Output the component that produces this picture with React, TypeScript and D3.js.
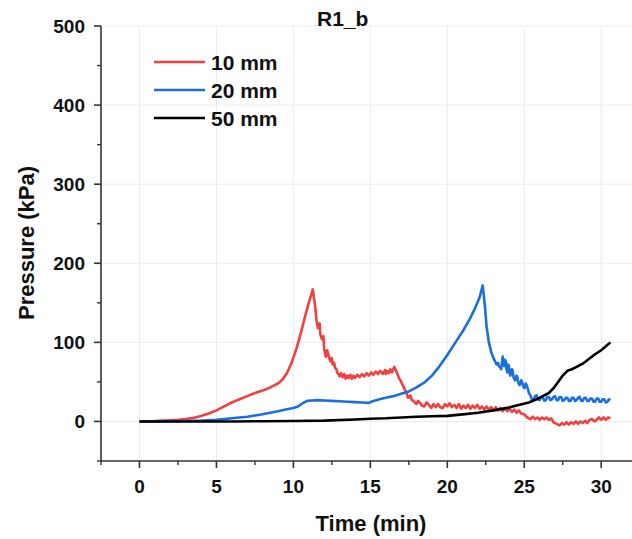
import React from "react";
import * as d3 from "d3";

const title = "R1_b";
const xLabel = "Time (min)";
const yLabel = "Pressure (kPa)";
const xTicks = [0, 5, 10, 15, 20, 25, 30];
const yTicks = [0, 100, 200, 300, 400, 500];
const seriesNames = ["10 mm", "20 mm", "50 mm"];
const seriesColors = ["#F14040", "#1A6FDF", "#000000"];

const red10: [number, number][] = [
  [0, 0], [0.5, 0], [1, 0.5], [1.5, 1], [2, 1.5], [2.5, 2], [3, 3], [3.5, 4.5], [4, 7], [4.5, 10],
  [5, 14], [5.5, 19], [6, 24], [6.5, 28], [7, 32], [7.5, 36], [8, 39], [8.5, 43], [9, 48], [9.3, 53],
  [9.6, 62], [9.9, 75], [10.2, 92], [10.5, 113], [10.8, 136], [11.0, 150], [11.26, 167], [11.4, 148],
  [11.5, 128], [11.6, 118], [11.7, 124], [11.75, 110], [11.85, 104], [11.95, 108], [12.0, 92],
  [12.1, 82], [12.2, 90], [12.25, 86], [12.35, 79], [12.4, 76], [12.5, 80], [12.55, 72], [12.65, 74],
  [12.7, 68], [12.8, 66], [12.85, 62], [12.95, 59], [13.0, 57], [13.1, 61], [13.2, 56], [13.3, 60],
  [13.4, 54], [13.5, 58], [13.6, 55], [13.7, 59], [13.8, 54], [13.9, 58], [14.0, 55], [14.15, 59],
  [14.3, 56], [14.45, 60], [14.6, 57], [14.75, 61], [14.9, 58], [15.05, 62], [15.2, 59], [15.35, 63],
  [15.5, 60], [15.65, 64], [15.8, 60], [15.95, 65], [16.0, 60], [16.1, 64], [16.2, 61], [16.3, 66],
  [16.4, 62], [16.55, 69], [16.7, 63], [16.8, 58], [16.85, 55], [16.95, 52], [17.0, 50], [17.1, 46],
  [17.15, 44], [17.25, 40], [17.3, 38], [17.4, 33], [17.45, 30], [17.6, 33], [17.7, 27], [17.8, 26],
  [17.9, 24], [18.0, 22], [18.1, 26], [18.2, 24], [18.35, 20], [18.5, 19], [18.65, 24], [18.8, 21],
  [18.95, 17], [19.1, 22], [19.25, 18], [19.4, 22], [19.55, 18], [19.7, 17], [19.85, 22], [20.0, 19],
  [20.15, 23], [20.3, 18], [20.45, 21], [20.6, 17], [20.75, 22], [20.9, 16], [21.05, 20], [21.2, 17],
  [21.35, 21], [21.5, 16], [21.65, 20], [21.8, 17], [21.95, 21], [22.1, 16], [22.25, 19], [22.4, 15],
  [22.55, 19], [22.7, 15], [22.85, 18], [23.0, 14], [23.15, 18], [23.3, 14], [23.45, 17], [23.6, 13],
  [23.75, 17], [23.9, 13], [24.05, 16], [24.2, 12], [24.35, 15], [24.5, 11], [24.65, 14], [24.8, 10],
  [25.0, 9], [25.2, 5], [25.4, 3], [25.55, 6], [25.7, 3], [25.85, 5], [26.0, 2], [26.15, 5],
  [26.3, 3], [26.45, 5], [26.6, 2], [26.75, 4], [26.9, -1], [27.1, -3], [27.3, -5], [27.45, -2],
  [27.6, -4], [27.75, -1], [27.9, -4], [28.05, -1], [28.2, -3], [28.35, 0], [28.5, -3], [28.65, 0],
  [28.8, -2], [28.95, 1], [29.1, -2], [29.25, 2], [29.4, 3], [29.55, 0], [29.7, 2], [29.85, 5],
  [30.0, 2], [30.15, 5], [30.3, 2], [30.45, 5], [30.6, 4],
];

const blue20: [number, number][] = [
  [0, 0], [1, 0], [2, 0.3], [3, 0.5], [4, 1], [5, 2], [5.5, 3], [6, 4], [6.5, 5], [7, 6], [7.5, 7.5],
  [8, 9], [8.5, 11], [9, 13], [9.5, 15], [10, 17], [10.3, 19], [10.6, 23], [10.9, 26], [11.2, 26.5],
  [11.6, 27], [12, 26.5], [12.5, 26], [13, 25.5], [13.5, 25], [14, 24.5], [14.5, 24], [14.9, 23.5],
  [15.2, 26], [15.6, 28], [16, 30], [16.5, 32], [17, 35], [17.5, 38], [18, 43], [18.5, 49], [19, 58],
  [19.5, 70], [20, 84], [20.5, 99], [21, 114], [21.5, 131], [21.8, 143], [22.1, 157], [22.3, 172],
  [22.45, 145], [22.55, 120], [22.7, 100], [22.85, 88], [23.0, 80], [23.1, 76], [23.2, 72],
  [23.3, 74], [23.35, 70], [23.45, 68], [23.5, 66], [23.6, 82], [23.65, 72], [23.7, 70], [23.75, 78],
  [23.8, 76], [23.85, 66], [23.9, 62], [23.95, 72], [24.0, 70], [24.05, 62], [24.1, 58], [24.2, 66],
  [24.25, 64], [24.3, 56], [24.4, 52], [24.5, 58], [24.55, 56], [24.6, 50], [24.7, 46], [24.8, 52],
  [24.85, 50], [24.95, 44], [25.0, 42], [25.1, 48], [25.15, 46], [25.25, 40], [25.3, 36],
  [25.4, 33], [25.45, 30], [25.55, 26], [25.6, 28], [25.7, 32], [25.8, 33], [25.9, 28], [26.0, 27],
  [26.1, 31], [26.2, 31], [26.3, 26], [26.4, 27], [26.5, 31], [26.6, 31], [26.7, 27], [26.8, 28],
  [26.9, 31], [27.0, 32], [27.1, 27], [27.2, 27], [27.3, 31], [27.4, 31], [27.5, 26], [27.6, 27],
  [27.7, 30], [27.8, 30], [27.9, 26], [28.0, 26], [28.1, 30], [28.2, 30], [28.3, 26], [28.4, 27],
  [28.5, 30], [28.6, 31], [28.7, 26], [28.8, 26], [28.9, 30], [29.0, 30], [29.1, 26], [29.2, 26],
  [29.3, 29], [29.4, 29], [29.5, 25], [29.6, 25], [29.7, 29], [29.8, 29], [29.9, 25], [30.0, 25],
  [30.1, 28], [30.2, 28], [30.3, 24], [30.4, 25], [30.5, 28], [30.6, 27],
];

const black50: [number, number][] = [
  [0, 0], [2, 0], [4, 0], [6, 0], [8, 0.3], [10, 0.5], [12, 1], [14, 2.5], [15, 3.5], [16, 4],
  [17, 5], [18, 6], [19, 6.5], [20, 7], [21, 9], [22, 11], [23, 14], [24, 17.5], [24.7, 21],
  [25.3, 24], [25.8, 28], [26.2, 32], [26.6, 36], [26.9, 42], [27.2, 50], [27.5, 58], [27.8, 64],
  [28.1, 66], [28.4, 69], [28.8, 73], [29.2, 79], [29.6, 85], [30.0, 90], [30.3, 95], [30.6, 100],
];

const allSeries = [red10, blue20, black50];

const W = 632;
const H = 539;
const FONT = "Arial, 'Liberation Sans', Helvetica, sans-serif";

export default function App() {
  const x = d3.scaleLinear().domain([-2.5, 32]).range([101, 632]);
  const y = d3.scaleLinear().domain([-50, 500]).range([461, 26]);
  const line = d3
    .line<[number, number]>()
    .x((d) => x(d[0]))
    .y((d) => y(d[1]))
    .curve(d3.curveLinear);

  const xMinor = d3.range(-2.5, 31, 2.5).filter((v) => !xTicks.includes(v));
  const yMinor = d3.range(-50, 500, 50).filter((v) => !yTicks.includes(v));
  const axisColor = "#333";

  return (
    <svg
      width={W}
      height={H}
      style={{ position: "absolute", left: 0, top: 0, background: "#fff" }}
      fontFamily={FONT}
    >
      <rect x={0} y={0} width={W} height={H} fill="#fff" />
      {xTicks.map((v) => (
        <line key={"gx" + v} x1={x(v)} x2={x(v)} y1={y(500)} y2={y(-50)} stroke="#ececec" strokeWidth={1} />
      ))}
      {yTicks.map((v) => (
        <line key={"gy" + v} x1={x(-2.5)} x2={W} y1={y(v)} y2={y(v)} stroke="#ececec" strokeWidth={1} />
      ))}
      {allSeries.map((s, i) => (
        <path
          key={"s" + i}
          d={line(s) || ""}
          fill="none"
          stroke={seriesColors[i]}
          strokeWidth={2.6}
          strokeLinejoin="round"
        />
      ))}
      <line x1={x(-2.5)} x2={x(-2.5)} y1={y(500)} y2={y(-50)} stroke={axisColor} strokeWidth={1.6} />
      <line x1={x(-2.5)} x2={W} y1={y(-50)} y2={y(-50)} stroke={axisColor} strokeWidth={1.6} />
      {yTicks.map((v) => (
        <g key={"yt" + v}>
          <line x1={x(-2.5) - 7} x2={x(-2.5)} y1={y(v)} y2={y(v)} stroke={axisColor} strokeWidth={1.6} />
          <text
            x={x(-2.5) - 16}
            y={y(v)}
            textAnchor="end"
            dominantBaseline="central"
            fontSize={19}
            fontWeight="bold"
            fill="#111"
          >
            {v}
          </text>
        </g>
      ))}
      {yMinor.map((v) => (
        <line key={"ym" + v} x1={x(-2.5) - 4} x2={x(-2.5)} y1={y(v)} y2={y(v)} stroke={axisColor} strokeWidth={1.4} />
      ))}
      {xTicks.map((v) => (
        <g key={"xt" + v}>
          <line x1={x(v)} x2={x(v)} y1={y(-50)} y2={y(-50) + 7} stroke={axisColor} strokeWidth={1.6} />
          <text x={x(v)} y={493} textAnchor="middle" fontSize={19} fontWeight="bold" fill="#111">
            {v}
          </text>
        </g>
      ))}
      {xMinor.map((v) => (
        <line key={"xm" + v} x1={x(v)} x2={x(v)} y1={y(-50)} y2={y(-50) + 4} stroke={axisColor} strokeWidth={1.4} />
      ))}
      <text x={371} y={531} textAnchor="middle" fontSize={22} fontWeight="bold" fill="#111">
        {xLabel}
      </text>
      <text
        transform={`translate(34, 243) rotate(-90)`}
        textAnchor="middle"
        fontSize={22}
        fontWeight="bold"
        fill="#111"
      >
        {yLabel}
      </text>
      <text x={317} y={26} fontSize={21} fontWeight="bold" fill="#111">
        {title}
      </text>
      {seriesNames.map((n, i) => (
        <g key={"lg" + i}>
          <line x1={154} x2={205} y1={62 + i * 28} y2={62 + i * 28} stroke={seriesColors[i]} strokeWidth={2.6} />
          <text x={211} y={62 + i * 28} dominantBaseline="central" fontSize={21} fontWeight="bold" fill="#111">
            {n}
          </text>
        </g>
      ))}
    </svg>
  );
}
